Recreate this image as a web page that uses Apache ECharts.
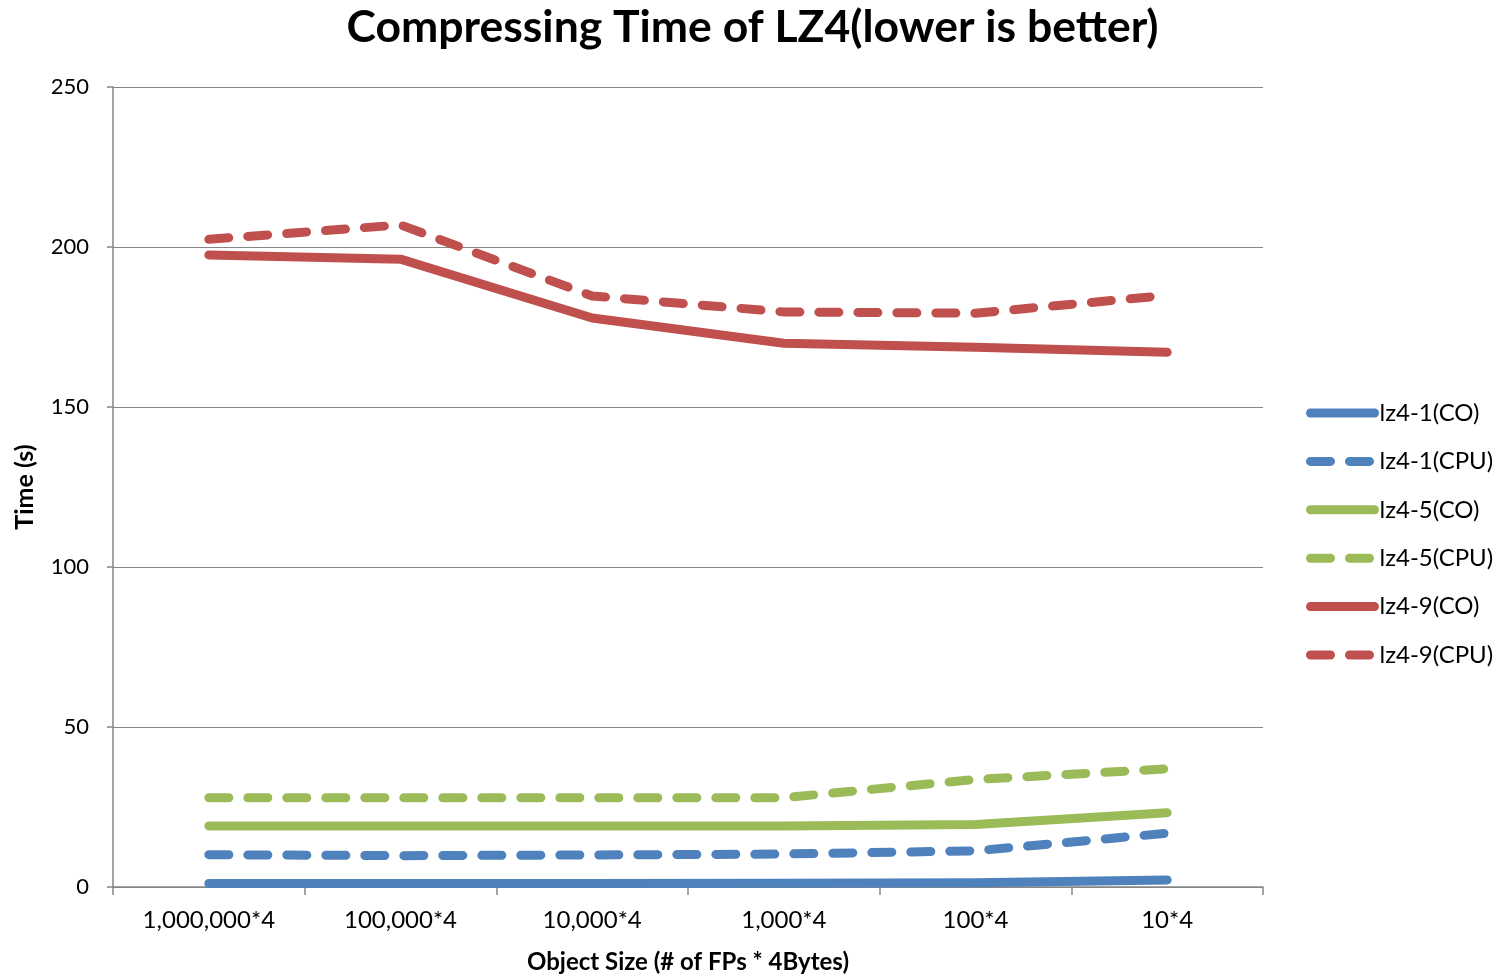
<!DOCTYPE html>
<html><head><meta charset="utf-8">
<script src="https://cdn.jsdelivr.net/npm/echarts@6/dist/echarts.min.js"></script>
<style>html,body{margin:0;padding:0;background:#fff}#c{width:1505px;height:976px}</style>
</head><body><div id="c"></div>
<script>
const categories = ['1,000,000*4','100,000*4','10,000*4','1,000*4','100*4','10*4'];
const lz4_1_CO  = [1.1, 1.1, 1.1, 1.2, 1.3, 2.2];
const lz4_1_CPU = [10.1, 9.8, 10.0, 10.3, 11.3, 16.8];
const lz4_5_CO  = [19.1, 19.1, 19.1, 19.1, 19.5, 23.2];
const lz4_5_CPU = [27.9, 27.9, 27.9, 27.9, 33.6, 36.9];
const lz4_9_CO  = [197.5, 196.2, 177.8, 169.9, 168.7, 167.1];
const lz4_9_CPU = [202.4, 206.9, 184.7, 179.7, 179.3, 184.9];
const yTicks = [0, 50, 100, 150, 200, 250];

const FONT = 'Lato';
const BLUE = '#4F81BD', GREEN = '#9BBB59', RED = '#C0504D';
const DASH = [20, 19];
function mk(name, data, color, dashed) {
  return {
    name, type: 'line', data, symbol: 'none', silent: true,
    lineStyle: { color, width: 9, cap: 'round', join: 'round', type: dashed ? DASH : 'solid' },
    itemStyle: { color }
  };
}
const chart = echarts.init(document.getElementById('c'), null, { renderer: 'canvas' });
chart.setOption({
  animation: false,
  textStyle: { fontFamily: FONT },
  title: {
    text: 'Compressing Time of LZ4(lower is better)', left: 'center', top: 0,
    textStyle: { fontFamily: FONT, fontWeight: 'bold', fontSize: 44.5, color: '#000' }
  },
  legend: {
    orient: 'vertical', left: 1301, top: 396, itemWidth: 64, itemHeight: 12, itemGap: 24.4,
    itemStyle: { opacity: 0 },
    lineStyle: { width: 9, cap: 'round' },
    textStyle: { fontFamily: FONT, fontSize: 24, color: '#000' },
    data: ['lz4-1(CO)', 'lz4-1(CPU)', 'lz4-5(CO)', 'lz4-5(CPU)', 'lz4-9(CO)', 'lz4-9(CPU)']
  },
  grid: { left: 113, right: 242, top: 87, bottom: 89, containLabel: false, outerBoundsMode: 'none' },
  xAxis: {
    type: 'category', data: categories, boundaryGap: true,
    name: 'Object Size (# of FPs * 4Bytes)', nameLocation: 'middle', nameGap: 63,
    nameTextStyle: { fontFamily: FONT, fontWeight: 'bold', fontSize: 24, color: '#000' },
    axisLine: { lineStyle: { color: '#868686', width: 1.5 } },
    axisTick: { show: true, length: 8, lineStyle: { color: '#868686', width: 1.5 }, alignWithLabel: false },
    axisLabel: { fontFamily: FONT, fontSize: 24, color: '#000', margin: 21, interval: 0 }
  },
  yAxis: {
    type: 'value', min: 0, max: 250, interval: 50,
    name: 'Time (s)', nameLocation: 'middle', nameGap: 76, nameRotate: 90,
    nameTextStyle: { fontFamily: FONT, fontWeight: 'bold', fontSize: 25, color: '#000' },
    axisLine: { show: true, lineStyle: { color: '#868686', width: 1.5 } },
    axisTick: { show: true, length: 6, lineStyle: { color: '#868686', width: 1.5 } },
    axisLabel: { fontFamily: FONT, fontSize: 22, color: '#000', margin: 24,
      formatter: v => yTicks.includes(v) ? String(v) : '' },
    splitLine: { lineStyle: { color: '#868686', width: 1.2 } }
  },
  series: [
    mk('lz4-1(CO)', lz4_1_CO, BLUE, false),
    mk('lz4-1(CPU)', lz4_1_CPU, BLUE, true),
    mk('lz4-5(CO)', lz4_5_CO, GREEN, false),
    mk('lz4-5(CPU)', lz4_5_CPU, GREEN, true),
    mk('lz4-9(CO)', lz4_9_CO, RED, false),
    mk('lz4-9(CPU)', lz4_9_CPU, RED, true)
  ]
});
</script></body></html>
